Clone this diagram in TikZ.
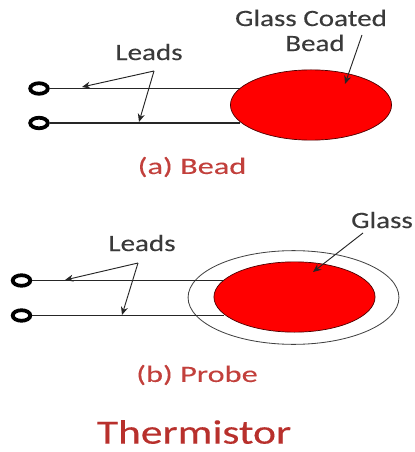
\documentclass[tikz,border=0pt]{standalone}
\usepackage{tikz}
\usepackage{xcolor}
\usepackage{fontspec}
\setmainfont{Carlito}
\newfontfamily\tagfont[FakeStretch=1.24,FakeBold=0.25]{Carlito}
\newfontfamily\capfont[FakeStretch=1.38,FakeBold=0.15]{Carlito}
\newfontfamily\headfont[FakeStretch=1.28,FakeBold=0.3]{Carlito}
\usetikzlibrary{arrows.meta,shapes.geometric}
\definecolor{leadgray}{HTML}{3A3A3A}
\definecolor{captionred}{HTML}{C2403C}
\definecolor{titlered}{HTML}{B8302C}
\tikzset{
  terminal/.style={ellipse,draw=black,line width=3.2pt,fill=white,minimum width=15pt,minimum height=9pt,inner sep=0pt},
  wire/.style={line width=1.4pt,black!85},
  blob/.style={ellipse,draw=black!70!red,line width=0.6pt,fill=red,inner sep=0pt,minimum width=137.5pt,minimum height=60pt},
  shell/.style={ellipse,draw=black!75,line width=0.7pt,fill=white,inner sep=0pt,minimum width=180pt,minimum height=80pt},
  pointer/.style={-{Stealth[length=7pt,width=6pt]},line width=0.8pt,black!85},
  tag/.style={text=leadgray,font=\tagfont\fontsize{20}{22}\selectfont,inner sep=0pt},
  caption/.style={text=captionred,font=\capfont\fontsize{20}{22}\selectfont,inner sep=0pt},
}
\begin{document}
\begin{tikzpicture}[x=0.03cm,y=-0.03cm]
  \useasboundingbox (0,0) rectangle (414,452);
  % bead
  \node[blob] (beadA) at (311,105) {};
  \node[terminal] (termAT) at (39,88.5) {};
  \node[terminal] (termAB) at (39,123) {};
  \coordinate (endAT) at (240,88.5);
  \coordinate (endAB) at (240,123);
  \draw[wire] (termAT)--(endAT);
  \draw[wire] (termAB)--(endAB);
  \node[tag] (leadsA) at (149,52) {Leads};
  \node[tag] (coatA) at (311,18) {Glass Coated};
  \node[tag] (coatB) at (315,43) {Bead};
  \coordinate (forkA) at (154,71);
  \coordinate (tipAT) at (82,87);
  \coordinate (tipAB) at (139,122);
  \draw[pointer] (forkA)--(tipAT);
  \draw[pointer] (forkA)--(tipAB);
  \coordinate (fromA) at (362,35);
  \coordinate (tipA) at (345,84);
  \draw[pointer] (fromA)--(tipA);
  \node[caption] (capA) at (192,167) {(a) Bead};
  % probe
  \node[shell] (glassB) at (293.5,297.5) {};
  \node[blob] (beadB) at (294.5,297) {};
  \node[terminal] (termBT) at (21.5,280.5) {};
  \node[terminal] (termBB) at (21.5,315.5) {};
  \coordinate (endBT) at (224,280.5);
  \coordinate (endBB) at (224,315.5);
  \draw[wire] (termBT)--(endBT);
  \draw[wire] (termBB)--(endBB);
  \node[tag] (leadsB) at (142,243) {Leads};
  \node[tag] (glassL) at (382,220) {Glass};
  \coordinate (forkB) at (138,263);
  \coordinate (tipBT) at (65,280);
  \coordinate (tipBB) at (122,315);
  \draw[pointer] (forkB)--(tipBT);
  \draw[pointer] (forkB)--(tipBB);
  \coordinate (fromB) at (363,233);
  \coordinate (tipB) at (313,272);
  \draw[pointer] (fromB)--(tipB);
  \node[caption] (capB) at (197,375) {(b) Probe};
  \node[text=titlered,font=\headfont\fontsize{29}{31}\selectfont,inner sep=0pt] (title) at (194,432) {Thermistor};
\end{tikzpicture}
\end{document}
